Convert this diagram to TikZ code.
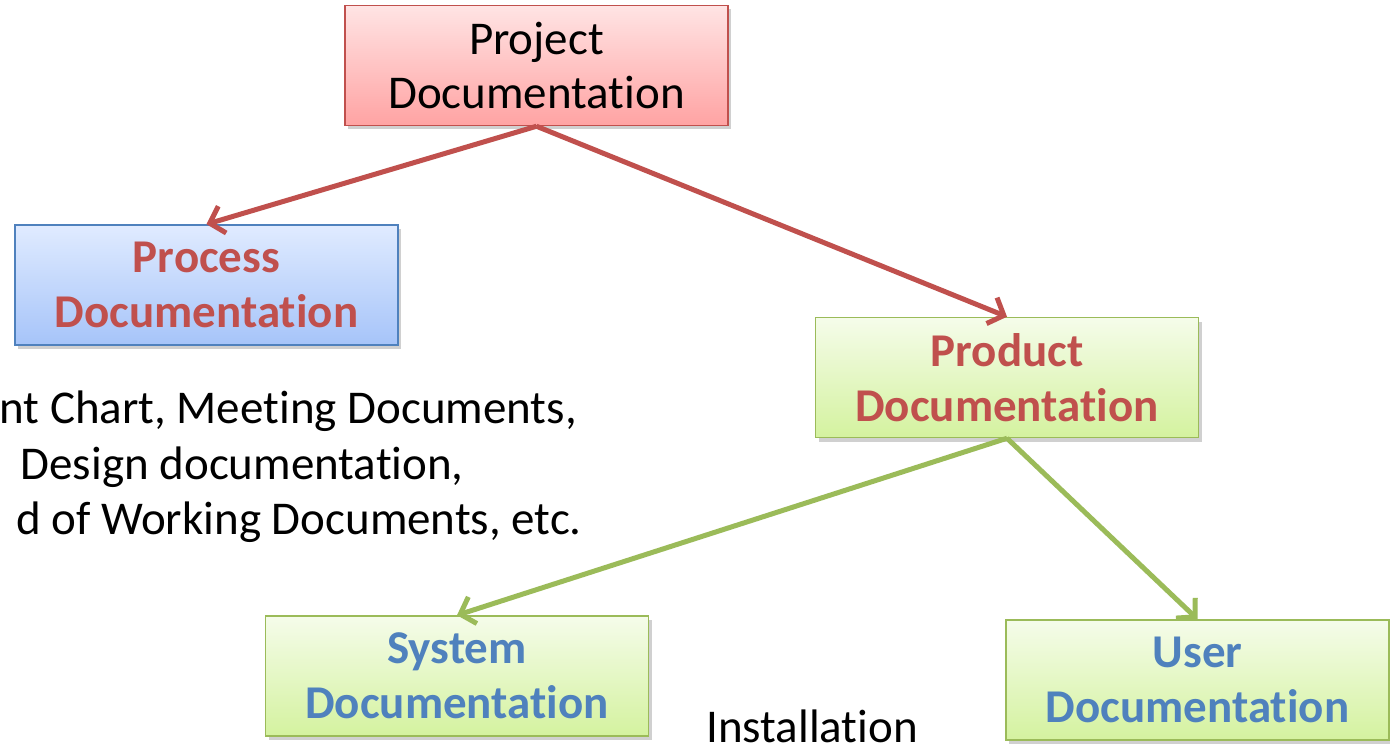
\documentclass[tikz,border=0pt]{standalone}
\usepackage{fontspec}
\setmainfont{Carlito}[RawFeature={-liga;-clig;-calt;-dlig}]
\usetikzlibrary{arrows.meta,shadows}
\newcommand\Ti{t\kern0pt i}
\definecolor{redline}{HTML}{C0504D}
\definecolor{blueline}{HTML}{4F81BD}
\definecolor{greenline}{HTML}{9BBB59}
\definecolor{redtop}{HTML}{FFE4E4}
\definecolor{redbot}{HTML}{FFA3A3}
\definecolor{bluetop}{HTML}{E0EBFF}
\definecolor{bluebot}{HTML}{A6C4F9}
\definecolor{greentop}{HTML}{F5FCEA}
\definecolor{greenbot}{HTML}{D4F29F}
\begin{document}
\begin{tikzpicture}[x=1pt,y=-1pt,
  docbox/.style={draw, line width=1.5pt, minimum width=383pt, minimum height=120pt,
    align=center, inner sep=0pt, font=\fontsize{47}{54}\selectfont,
    drop shadow={shadow xshift=3pt, shadow yshift=-4pt, opacity=0.3, fill=black!60}},
  redbox/.style={docbox, draw=redline, top color=redtop, bottom color=redbot},
  bluebox/.style={docbox, draw=blueline, top color=bluetop, bottom color=bluebot},
  greenbox/.style={docbox, draw=greenline, top color=greentop, bottom color=greenbot},
  redtxt/.style={text=redline, font=\fontsize{47}{55}\selectfont\bfseries},
  bluetxt/.style={text=blueline, font=\fontsize{47}{55}\selectfont\bfseries},
  plain/.style={inner sep=0pt, font=\fontsize{47}{56}\selectfont},
  redarrow/.style={draw=redline, line width=5pt, -{Straight Barb[length=13pt,width=28pt]}},
  greenarrow/.style={draw=greenline, line width=5pt, -{Straight Barb[length=13pt,width=28pt]}}]
\useasboundingbox (0,0) rectangle (1390,746);
\clip (0,0) rectangle (1390,746);
\fill[white] (0,0) rectangle (1390,746);

\node[redbox] (proj) at (536.5,65.5) {Project\\Documenta\Ti on};
\node[bluebox, redtxt] (proc) at (206.5,285) {Process\\Documenta\Ti on};
\node[greenbox, redtxt] (prod) at (1007,377.5) {Product\\Documenta\Ti on};
\node[greenbox, bluetxt] (sys) at (457,676) {System\\Documenta\Ti on};
\node[greenbox, bluetxt] (user) at (1197.5,680) {User\\Documenta\Ti on};

\draw[redarrow] (proj.south) -- (proc.north);
\draw[redarrow] (proj.south) -- (prod.north);
\draw[greenarrow] (prod.south) -- (sys.north);
\draw[greenarrow] (prod.south) -- (user.north);

\node[plain, anchor=base east] (l1) at (577,423) {nt Chart, Mee\Ti ng Documents,};
\node[plain, anchor=base east] (l2) at (464,479) {Design documenta\Ti on,};
\node[plain, anchor=base east] (l3) at (582,534) {d of Working Documents, etc.};
\node[plain, anchor=base west] (inst) at (706,742) {Installa\Ti on};
\end{tikzpicture}
\end{document}
